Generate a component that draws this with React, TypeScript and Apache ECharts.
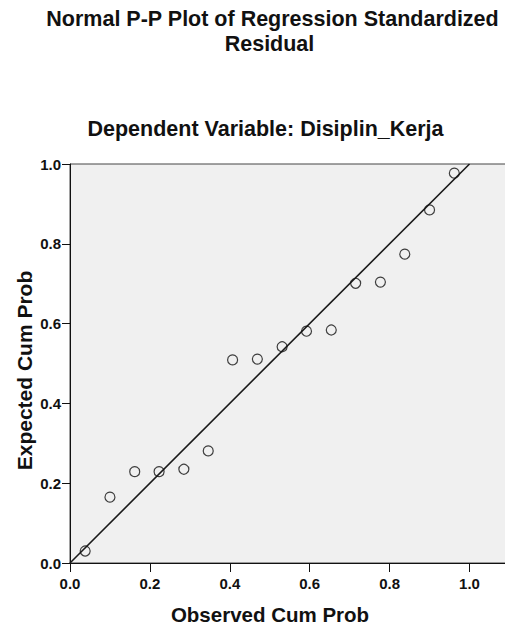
import React, { useEffect, useRef } from "react";
import * as echarts from "echarts";

const titleLines = ["Normal P-P Plot of Regression Standardized", "Residual"];
const subtitle = "Dependent Variable: Disiplin_Kerja";
const xName = "Observed Cum Prob";
const yName = "Expected Cum Prob";

const observedCumProb = [0.038, 0.1, 0.162, 0.223, 0.285, 0.346, 0.407, 0.469, 0.531, 0.592, 0.654, 0.715, 0.777, 0.838, 0.9, 0.962];
const expectedCumProb = [0.03, 0.165, 0.229, 0.229, 0.235, 0.281, 0.509, 0.511, 0.542, 0.581, 0.584, 0.701, 0.704, 0.774, 0.885, 0.977];
const referenceLine = [
  [0, 0],
  [1, 1],
];

const FONT = "'Liberation Sans', Arial, sans-serif";
const INK = "#111";

export default function App() {
  const ref = useRef<HTMLDivElement>(null);
  useEffect(() => {
    if (!ref.current) return;
    const chart = echarts.init(ref.current, undefined, { renderer: "svg" });
    const points = observedCumProb.map((x, i) => [x, expectedCumProb[i]]);
    const labelFmt = (v: number) => (v > 1.0001 ? "" : v.toFixed(1));
    chart.setOption({
      animation: false,
      backgroundColor: "#ffffff",
      grid: {
        left: 70,
        top: 164,
        bottom: 63,
        right: 15.55,
        show: true,
        backgroundColor: "#f0f0f0",
        borderColor: "#444",
        borderWidth: 1,
      },
      xAxis: {
        type: "value",
        min: 0,
        max: 1.1,
        interval: 0.2,
        splitLine: { show: false },
        axisLine: { show: true, onZero: false, lineStyle: { color: INK, width: 1 } },
        axisTick: { show: true, length: 9, lineStyle: { color: INK, width: 1 } },
        axisLabel: {
          formatter: labelFmt,
          showMaxLabel: false,
          margin: 13,
          fontSize: 15,
          fontWeight: "bold",
          fontFamily: FONT,
          color: INK,
        },
      },
      yAxis: {
        type: "value",
        min: 0,
        max: 1,
        interval: 0.2,
        splitLine: { show: false },
        axisLine: { show: true, onZero: false, lineStyle: { color: INK, width: 1 } },
        axisTick: { show: true, length: 8, lineStyle: { color: INK, width: 1 } },
        axisLabel: {
          formatter: labelFmt,
          margin: 9,
          fontSize: 15,
          fontWeight: "bold",
          fontFamily: FONT,
          color: INK,
        },
      },
      series: [
        {
          type: "line",
          data: referenceLine,
          symbol: "none",
          lineStyle: { color: "#1a1a1a", width: 1.6 },
          z: 2,
        },
        {
          type: "scatter",
          data: points,
          symbol: "circle",
          symbolSize: 10,
          itemStyle: { color: "rgba(0,0,0,0)", borderColor: INK, borderWidth: 1.2 },
          z: 3,
        },
      ],
      graphic: [
        {
          type: "text",
          x: 272.5,
          y: 19.4,
          style: { text: titleLines[0], font: `bold 21.5px ${FONT}`, fill: INK, align: "center", verticalAlign: "middle" },
        },
        {
          type: "text",
          x: 269.5,
          y: 43.6,
          style: { text: titleLines[1], font: `bold 21.5px ${FONT}`, fill: INK, align: "center", verticalAlign: "middle" },
        },
        {
          type: "text",
          x: 265.5,
          y: 129,
          style: { text: subtitle, font: `bold 21.5px ${FONT}`, fill: INK, align: "center", verticalAlign: "middle" },
        },
        {
          type: "text",
          x: 270,
          y: 614.5,
          style: { text: xName, font: `bold 20.5px ${FONT}`, fill: INK, align: "center", verticalAlign: "middle" },
        },
        {
          type: "text",
          x: 24,
          y: 370.5,
          rotation: Math.PI / 2,
          style: { text: yName, font: `bold 21px ${FONT}`, fill: INK, align: "center", verticalAlign: "middle" },
        },
      ],
    });
    return () => chart.dispose();
  }, []);
  return (
    <div style={{ position: "fixed", left: 0, top: 0, width: 505, height: 626, overflow: "hidden", background: "#fff" }}>
      <div ref={ref} style={{ width: 525, height: 626 }} />
    </div>
  );
}
